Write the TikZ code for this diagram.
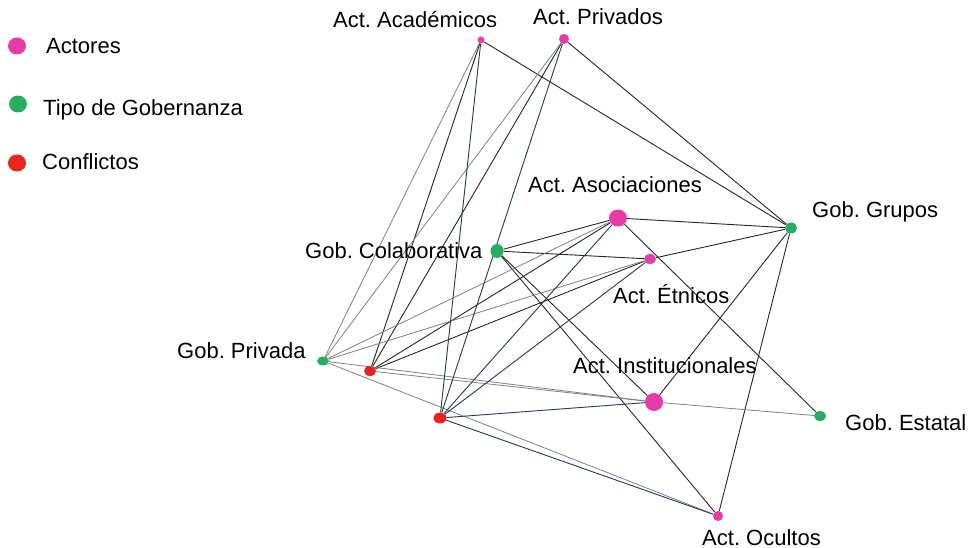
\documentclass[tikz,border=0pt]{standalone}
\usepackage{fontspec}
\setmainfont{Liberation Sans}
\usetikzlibrary{positioning, shapes.geometric, backgrounds}

\definecolor{actpink}{RGB}{230,60,165}
\definecolor{gobgreen}{RGB}{40,172,95}
\definecolor{confred}{RGB}{232,36,30}
\definecolor{edgenavy}{RGB}{35,55,95}

\frenchspacing

\begin{document}
\begin{tikzpicture}[
    x=1pt, y=-1pt,
    dot/.style={ellipse, inner sep=0pt, draw=none},
    sz/.style 2 args={minimum width=#1pt, minimum height=#2pt},
    act/.style={dot, fill=actpink},
    gob/.style={dot, fill=gobgreen},
    conf/.style={dot, fill=confred},
    lbl/.style={anchor=base west, inner sep=0pt, font=\fontsize{22}{26}\selectfont},
    lnk/.style={line width=0.9pt, black!85},
    lnkg/.style={line width=0.8pt, black!50},
    lnkb/.style={line width=0.9pt, edgenavy},
    ]
    \useasboundingbox (0,0) rectangle (974,548);

    % legend
    \node[act, sz={18}{17}] (legact) at (17,46) {};
    \node[gob, sz={18}{17}] (leggob) at (18,104) {};
    \node[conf, sz={18}{17}] (legconf) at (17,163) {};
    \node[lbl] (legacttxt) at (46,54) {Actores};
    \node[lbl] (leggobtxt) at (43,116) {Tipo de Gobernanza};
    \node[lbl] (legconftxt) at (42,170) {Conflictos};

    % actores
    \node[act, sz={7}{7}] (acad) at (481,40) {};
    \node[act, sz={10}{10}] (priv) at (564,39) {};
    \node[act, sz={18}{17}] (asoc) at (618,218) {};
    \node[act, sz={12}{10}] (etn) at (650,259) {};
    \node[act, sz={18}{18}] (inst) at (654,402) {};
    \node[act, sz={10}{10}] (ocul) at (718,516) {};

    % gobernanza
    \node[gob, sz={12}{11}] (ggru) at (791,228) {};
    \node[gob, sz={13}{14}] (gcol) at (497,251) {};
    \node[gob, sz={12}{9}] (gpriv) at (323,361) {};
    \node[gob, sz={12}{10}] (gest) at (820,416) {};

    % conflictos
    \node[conf, sz={12}{10}] (conf1) at (370,371) {};
    \node[conf, sz={13}{11}] (conf2) at (440,418) {};

    % labels
    \node[lbl] (acadlbl) at (333,28) {Act. Académicos};
    \node[lbl] (privlbl) at (533,25) {Act. Privados};
    \node[lbl] (asoclbl) at (528,193) {Act. Asociaciones};
    \node[lbl] (etnlbl) at (613,303) {Act. Étnicos};
    \node[lbl] (instlbl) at (573,373) {Act. Institucionales};
    \node[lbl] (ocullbl) at (702,545) {Act. Ocultos};
    \node[lbl] (ggrulbl) at (812,218) {Gob. Grupos};
    \node[lbl] (gestlbl) at (845,430) {Gob. Estatal};
    \node[lbl] (gcollbl) at (305,258) {Gob. Colaborativa};
    \node[lbl] (gprivlbl) at (177,358) {Gob. Privada};

    \begin{scope}[on background layer]
        \draw[lnk] (acad) -- (ggru);
        \draw[lnk] (priv) -- (ggru);
        \draw[lnk] (asoc) -- (ggru);
        \draw[lnk] (etn) -- (ggru);
        \draw[lnk] (inst) -- (ggru);
        \draw[lnk] (ocul) -- (ggru);
        \draw[lnk] (asoc) -- (gest);
        \draw[lnk] (gcol) -- (asoc);
        \draw[lnk] (gcol) -- (etn);
        \draw[lnk] (gcol) -- (inst);
        \draw[lnk] (gcol) -- (ocul);
        \draw[lnk] (conf1) -- (acad);
        \draw[lnk] (conf1) -- (priv);
        \draw[lnk] (conf1) -- (asoc);
        \draw[lnk] (conf1) -- (etn);

        \draw[lnkg] (gpriv) -- (acad);
        \draw[lnkg] (gpriv) -- (priv);
        \draw[lnkg] (gpriv) -- (asoc);
        \draw[lnkg] (gpriv) -- (etn);
        \draw[lnkg] (gpriv) -- (inst);
        \draw[lnkg] (gpriv) -- (ocul);
        \draw[lnkg] (conf1) -- (inst);
        \draw[lnkg] (inst) -- (gest);

        \draw[lnkb] (conf2) -- (acad);
        \draw[lnkb] (conf2) -- (priv);
        \draw[lnkb] (conf2) -- (asoc);
        \draw[lnkb] (conf2) -- (etn);
        \draw[lnkb] (conf2) -- (inst);
        \draw[lnkb] (conf2) -- (ocul);
    \end{scope}

\end{tikzpicture}
\end{document}
